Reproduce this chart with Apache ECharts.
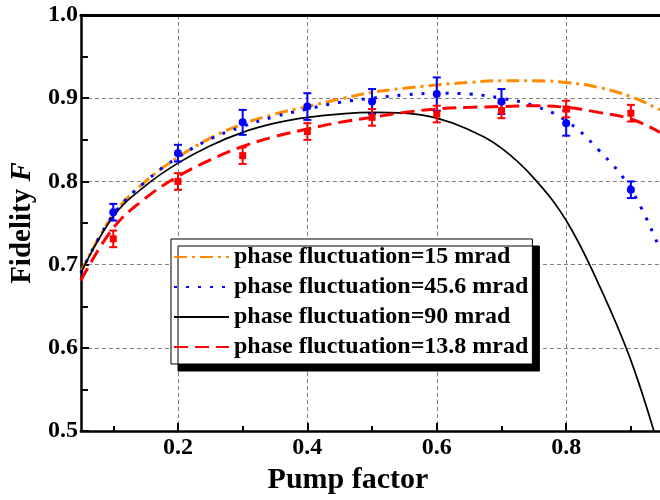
<!DOCTYPE html>
<html><head><meta charset="utf-8">
<script src="https://cdn.jsdelivr.net/npm/echarts@6/dist/echarts.min.js"></script>
<style>html,body{margin:0;padding:0;background:#fff}#c{width:660px;height:500px}</style>
</head><body><div id="c"></div>
<script>
// ---- data ----
const seriesNames = ['phase fluctuation=15 mrad','phase fluctuation=45.6 mrad','phase fluctuation=90 mrad','phase fluctuation=13.8 mrad'];
const xCurve = [0.05,0.1,0.15,0.2,0.25,0.3,0.35,0.4,0.45,0.5,0.55,0.6,0.65,0.7,0.75,0.8,0.85,0.9,0.945];
const curve15 = [0.691,0.760,0.800,0.829,0.852,0.869,0.881,0.890,0.899,0.907,0.912,0.916,0.919,0.921,0.921,0.919,0.913,0.902,0.886];
const curve456 = [0.690,0.760,0.800,0.829,0.851,0.866,0.878,0.887,0.895,0.900,0.904,0.906,0.905,0.900,0.891,0.873,0.838,0.791,0.718];
const curve90 = [0.690,0.758,0.795,0.822,0.843,0.859,0.870,0.877,0.881,0.883,0.882,0.876,0.862,0.840,0.804,0.753,0.677,0.585,0.475];
const curve138 = [0.681,0.744,0.780,0.806,0.826,0.842,0.854,0.863,0.871,0.877,0.883,0.887,0.889,0.890,0.891,0.889,0.883,0.875,0.859];
const xPts = [0.1,0.2,0.3,0.4,0.5,0.6,0.7,0.8,0.9];
const blueVals = [0.763,0.834,0.871,0.890,0.896,0.905,0.896,0.870,0.790];
const blueErr = [0.010,0.010,0.015,0.016,0.015,0.020,0.015,0.015,0.010];
const redVals = [0.731,0.800,0.831,0.860,0.877,0.881,0.885,0.887,0.882];
const redErr = [0.010,0.010,0.010,0.010,0.010,0.010,0.009,0.010,0.010];
const xMajor = [0.2,0.4,0.6,0.8];
const xMinor = [0.1,0.3,0.5,0.7,0.9];

const FONT = 'Liberation Serif';
const pair = (xs, ys) => xs.map((x,i)=>[x, ys[i]]);
const errData = (vals, errs) => xPts.map((x,i)=>[x, vals[i]-errs[i], vals[i]+errs[i]]);

function errRender(color){
  return function(params, api){
    const x = api.value(0), lo = api.value(1), hi = api.value(2);
    const p1 = api.coord([x, hi]), p2 = api.coord([x, lo]);
    const w = 4, st = {stroke: color, lineWidth: 2};
    return {type:'group', children:[
      {type:'line', shape:{x1:p1[0],y1:p1[1],x2:p2[0],y2:p2[1]}, style:st},
      {type:'line', shape:{x1:p1[0]-w,y1:p1[1],x2:p1[0]+w,y2:p1[1]}, style:st},
      {type:'line', shape:{x1:p2[0]-w,y1:p2[1],x2:p2[0]+w,y2:p2[1]}, style:st}
    ]};
  };
}

const chart = echarts.init(document.getElementById('c'), null, {renderer:'canvas'});
const splitLS = {show:true, lineStyle:{color:'#808080', width:1, type:[4,3]}};
chart.setOption({
  animation:false,
  backgroundColor:'#fff',
  grid:{left:75, top:15, right:0, bottom:59, containLabel:false},
  legend:{
    data: seriesNames,
    orient:'vertical', left:171, top:239,
    padding:[6,4,5,2], itemGap:6, itemWidth:55, itemHeight:14,
    backgroundColor:'#fff', borderColor:'#000', borderWidth:1,
    shadowColor:'#000', shadowBlur:0, shadowOffsetX:7, shadowOffsetY:7,
    itemStyle:{opacity:0},
    textStyle:{fontFamily:FONT, fontWeight:'bold', fontSize:24, color:'#000'},
    z:10
  },
  xAxis:[
    {type:'value', position:'bottom', min:0.05, max:0.945, interval:0.2,
     axisLine:{show:true, onZero:false, lineStyle:{color:'#000', width:2.5}},
     axisTick:{show:true, inside:true, length:8, customValues:xMajor, lineStyle:{color:'#000', width:2}},
     axisLabel:{customValues:xMajor, margin:5, formatter:v=>v.toFixed(1), fontFamily:FONT, fontWeight:'bold', fontSize:24, color:'#000'},
     splitLine:splitLS,
     name:'Pump factor', nameLocation:'middle', nameGap:28,
     nameTextStyle:{fontFamily:FONT, fontWeight:'bold', fontSize:30, color:'#000', padding:[0,45,0,0]}
    },
    {type:'value', position:'bottom', min:0.05, max:0.945,
     axisLine:{show:false, onZero:false},
     axisTick:{show:true, inside:true, length:5, customValues:xMinor, lineStyle:{color:'#000', width:2}},
     axisLabel:{show:false}, splitLine:{show:false}
    },
    {type:'value', position:'top', min:0.05, max:0.945,
     axisLine:{show:true, onZero:false, lineStyle:{color:'#000', width:3}},
     axisTick:{show:false}, axisLabel:{show:false}, splitLine:{show:false}
    }
  ],
  yAxis:{type:'value', min:0.5, max:1.0, interval:0.1,
    axisLine:{show:true, onZero:false, lineStyle:{color:'#000', width:2.5}},
    axisTick:{show:true, inside:true, length:8, lineStyle:{color:'#000', width:2}},
    minorTick:{show:true, splitNumber:2, length:7, lineStyle:{color:'#000', width:2}},
    axisLabel:{margin:3, formatter:v=>v.toFixed(1), fontFamily:FONT, fontWeight:'bold', fontSize:24, color:'#000'},
    splitLine:splitLS,
    name:'{a|Fidelity }{b|F}', nameLocation:'middle', nameGap:42,
    nameTextStyle:{rich:{
      a:{fontFamily:FONT, fontWeight:'bold', fontSize:29, color:'#000'},
      b:{fontFamily:FONT, fontWeight:'bold', fontStyle:'italic', fontSize:29, color:'#000'}
    }}
  },
  series:[
    {name:seriesNames[0], type:'line', xAxisIndex:0, data:pair(xCurve, curve15), smooth:0.4, symbol:'none',
     lineStyle:{color:'#FF8C00', width:3, type:[13,5,3,5]}, itemStyle:{color:'#FF8C00'}, z:2},
    {name:seriesNames[1], type:'line', xAxisIndex:0, data:pair(xCurve, curve456), smooth:0.4, symbol:'none',
     lineStyle:{color:'#0000FF', width:3, type:[3,9]}, itemStyle:{color:'#0000FF'}, z:2},
    {name:seriesNames[2], type:'line', xAxisIndex:0, data:pair(xCurve, curve90), smooth:0.4, symbol:'none',
     lineStyle:{color:'#000', width:1.7, type:'solid'}, itemStyle:{color:'#000'}, z:2},
    {name:seriesNames[3], type:'line', xAxisIndex:0, data:pair(xCurve, curve138), smooth:0.4, symbol:'none',
     lineStyle:{color:'#FF0000', width:3, type:[14,7]}, itemStyle:{color:'#FF0000'}, z:2},
    {name:'blueErr', type:'custom', xAxisIndex:0, renderItem:errRender('#0000FF'), data:errData(blueVals, blueErr), encode:{x:0, y:[1,2]}, z:4},
    {name:'redErr', type:'custom', xAxisIndex:0, renderItem:errRender('#FF0000'), data:errData(redVals, redErr), encode:{x:0, y:[1,2]}, z:4},
    {name:'bluePts', type:'scatter', xAxisIndex:0, data:pair(xPts, blueVals), symbol:'circle', symbolSize:8, itemStyle:{color:'#0000FF', opacity:1}, z:5},
    {name:'redPts', type:'scatter', xAxisIndex:0, data:pair(xPts, redVals), symbol:'rect', symbolSize:7, itemStyle:{color:'#FF0000', opacity:1}, z:5}
  ]
});
</script></body></html>
